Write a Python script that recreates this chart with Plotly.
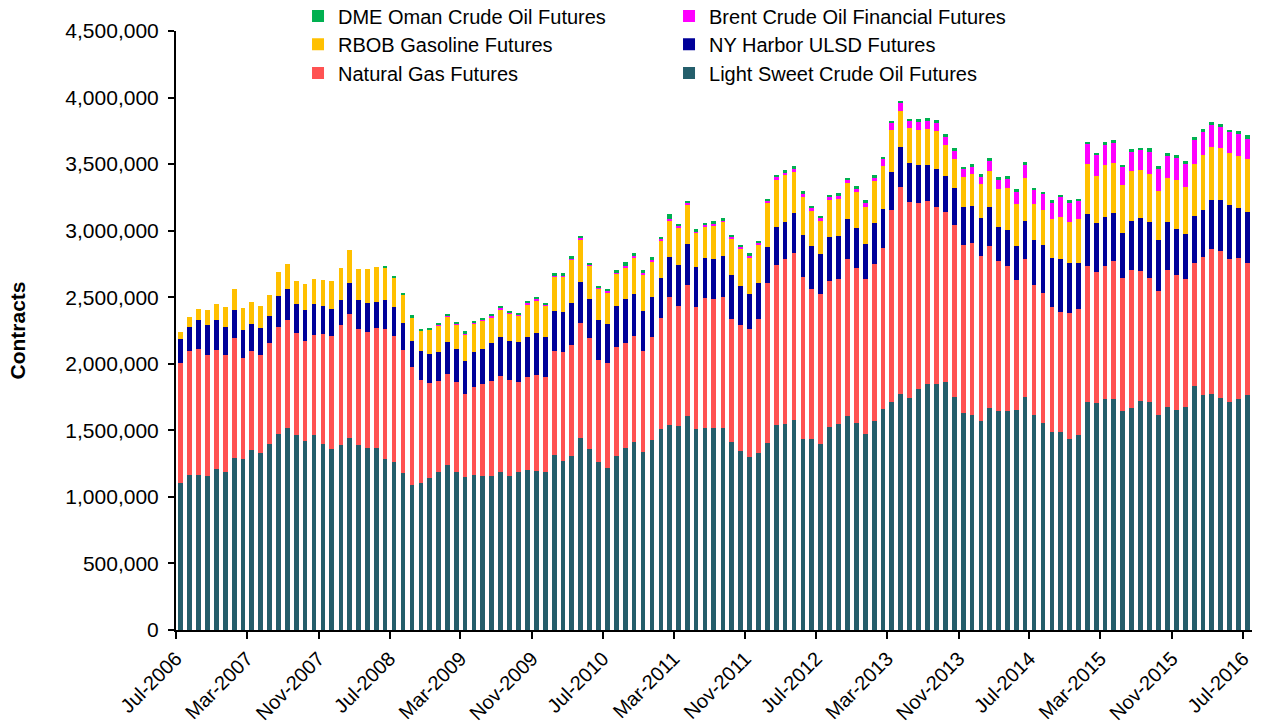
import pandas as pd
import plotly.graph_objects as go

# monthly open interest, thousands of contracts, Jul-2006 .. Jul-2016
months = pd.date_range("2006-07-01", periods=121, freq="MS")

light_sweet = [1102, 1164, 1164, 1157, 1212, 1189, 1295, 1287, 1355, 1327,
               1395, 1475, 1520, 1465, 1420, 1465, 1400, 1360, 1392, 1445,
               1392, 1365, 1367, 1285, 1265, 1182, 1092, 1107, 1142, 1189,
               1242, 1189, 1147, 1167, 1159, 1159, 1189, 1159, 1189, 1205,
               1197, 1190, 1318, 1273, 1310, 1445, 1360, 1263, 1220, 1308,
               1370, 1415, 1340, 1430, 1513, 1543, 1536, 1611, 1508, 1521,
               1521, 1520, 1415, 1345, 1303, 1328, 1403, 1543, 1551, 1581,
               1438, 1438, 1395, 1528, 1551, 1606, 1553, 1475, 1571, 1658,
               1716, 1771, 1741, 1813, 1851, 1846, 1863, 1753, 1633, 1616,
               1573, 1671, 1643, 1646, 1653, 1753, 1618, 1556, 1485, 1490,
               1433, 1468, 1713, 1708, 1738, 1738, 1648, 1671, 1723, 1716,
               1618, 1678, 1656, 1673, 1836, 1763, 1771, 1741, 1711, 1738,
               1763]

natural_gas = [906, 932, 947, 909, 891, 877, 901, 759, 741, 736,
               761, 804, 811, 766, 751, 751, 824, 851, 902, 929,
               869, 874, 899, 974, 944, 919, 881, 769, 716, 682,
               684, 674, 628, 661, 692, 712, 719, 717, 677, 693,
               716, 711, 778, 816, 832, 859, 837, 766, 789, 819,
               784, 797, 759, 772, 829, 959, 901, 979, 919, 974,
               966, 982, 924, 949, 959, 1011, 1202, 1202, 1234, 1254,
               1214, 1127, 1132, 1092, 1089, 1184, 1167, 1165, 1176, 1215,
               1440, 1560, 1477, 1398, 1370, 1335, 1278, 1290, 1262, 1292,
               1240, 1212, 1132, 1091, 979, 1034, 974, 979, 942, 902,
               951, 941, 1022, 984, 999, 1037, 994, 1034, 972, 929,
               929, 1027, 1009, 962, 921, 1037, 1092, 1104, 1076, 1054,
               994]

ny_harbor_ulsd = [178, 183, 215, 225, 226, 213, 208, 208, 203, 203,
                  203, 228, 231, 218, 233, 233, 210, 203, 185, 235,
                  218, 220, 201, 218, 217, 208, 201, 217, 218, 220,
                  240, 248, 248, 260, 260, 283, 296, 295, 300, 306,
                  316, 301, 303, 298, 315, 313, 293, 303, 288, 310,
                  333, 315, 300, 300, 303, 301, 308, 310, 300, 300,
                  301, 308, 331, 293, 265, 271, 273, 283, 283, 301,
                  318, 320, 301, 330, 323, 295, 298, 263, 313, 290,
                  283, 300, 293, 280, 275, 285, 270, 275, 286, 280,
                  280, 293, 253, 271, 256, 288, 341, 360, 370, 395,
                  371, 346, 388, 368, 363, 356, 338, 368, 403, 418,
                  383, 358, 348, 340, 353, 358, 370, 388, 406, 376,
                  384]

rbob = [50, 72, 88, 110, 117, 145, 155, 162, 163, 168,
        160, 180, 187, 170, 193, 190, 193, 205, 243, 243,
        233, 253, 257, 247, 221, 208, 177, 156, 178, 198,
        188, 185, 198, 213, 215, 197, 207, 208, 193, 242,
        250, 237, 253, 265, 323, 316, 247, 233, 240, 238,
        240, 273, 271, 268, 280, 275, 278, 293, 256, 233,
        245, 253, 268, 273, 270, 280, 328, 355, 348, 308,
        286, 266, 247, 281, 278, 271, 273, 278, 316, 326,
        318, 271, 258, 266, 268, 281, 230, 221, 225, 240,
        255, 273, 285, 310, 310, 323, 270, 258, 291, 318,
        313, 330, 376, 353, 391, 380, 361, 376, 358, 363,
        368, 330, 365, 353, 389, 408, 396, 388, 393, 391,
        395]

brent = [0, 0, 0, 0, 0, 0, 0, 0, 0, 0,
         0, 0, 0, 0, 0, 0, 0, 0, 0, 0,
         0, 0, 0, 0, 0, 0, 0, 4, 3, 3,
         4, 4, 4, 5, 5, 5, 6, 6, 6, 7,
         7, 8, 8, 8, 9, 9, 8, 10, 10, 8,
         10, 13, 10, 10, 10, 13, 12, 15, 10, 17,
         18, 15, 15, 18, 18, 15, 15, 18, 20, 20,
         22, 22, 23, 20, 20, 30, 25, 32, 27, 50,
         50, 55, 55, 60, 63, 65, 65, 62, 55, 53,
         58, 75, 70, 73, 95, 96, 105, 120, 123, 146,
         140, 138, 150, 156, 155, 148, 140, 145, 148, 168,
         168, 171, 168, 176, 182, 175, 163, 156, 155, 170,
         155]

dme_oman = [0, 0, 0, 0, 0, 0, 0, 0, 0, 0,
            0, 0, 0, 0, 0, 0, 0, 0, 0, 0,
            0, 0, 0, 13, 12, 15, 13, 10, 15, 15,
            17, 15, 20, 18, 13, 15, 20, 15, 17, 18,
            15, 10, 20, 20, 23, 20, 12, 12, 18, 22,
            26, 20, 22, 20, 18, 32, 15, 15, 20, 13,
            20, 15, 12, 15, 15, 18, 17, 20, 18, 20,
            20, 15, 15, 20, 20, 10, 20, 15, 15, 17,
            17, 20, 18, 20, 17, 20, 20, 20, 20, 20,
            17, 20, 18, 20, 18, 20, 15, 18, 17, 15,
            20, 15, 20, 15, 18, 20, 13, 17, 17, 25,
            20, 17, 20, 17, 25, 23, 25, 25, 16, 20,
            28]

tick_labels = ["Jul-2006", "Mar-2007", "Nov-2007", "Jul-2008", "Mar-2009",
               "Nov-2009", "Jul-2010", "Mar-2011", "Nov-2011", "Jul-2012",
               "Mar-2013", "Nov-2013", "Jul-2014", "Mar-2015", "Nov-2015",
               "Jul-2016"]

# bottom to top of the stack: (name, values, colour, legend, rank in legend row)
series = [
    ("Light Sweet Crude Oil Futures", light_sweet, "#245E6B", "legend3", 2),
    ("Natural Gas Futures", natural_gas, "#FF5252", "legend3", 1),
    ("NY Harbor ULSD Futures", ny_harbor_ulsd, "#000099", "legend2", 2),
    ("RBOB Gasoline Futures", rbob, "#FFC000", "legend2", 1),
    ("Brent Crude Oil Financial Futures", brent, "#FF00FF", "legend", 2),
    ("DME Oman Crude Oil Futures", dme_oman, "#00B050", "legend", 1),
]

fig = go.Figure()
for name, vals, color, leg, rank in series:
    fig.add_trace(go.Bar(
        x=months,
        y=[v * 1000 for v in vals],
        name=name,
        marker_color=color,
        marker_line_width=0,
        xperiod="M1",
        xperiodalignment="middle",
        legend=leg,
        legendrank=rank,
        hovertemplate="%{x|%b-%Y}<br>%{y:,}<extra>" + name + "</extra>",
    ))

font = dict(family="Liberation Sans, Arial, sans-serif", size=20, color="black")
leg_common = dict(orientation="h", x=0.1134, xanchor="left", yanchor="middle",
                  bgcolor="rgba(0,0,0,0)", entrywidth=326, entrywidthmode="pixels",
                  font=font, traceorder="normal", itemclick=False)

fig.update_layout(
    barmode="stack",
    bargap=0.45,
    width=1263,
    height=728,
    margin=dict(l=176, r=11, t=31, b=98, autoexpand=False),
    plot_bgcolor="white",
    paper_bgcolor="white",
    font=font,
    legend=dict(leg_common, y=1.025),
    legend2=dict(leg_common, y=0.978),
    legend3=dict(leg_common, y=0.930),
)

fig.update_xaxes(
    range=[months[0], months[-1] + pd.DateOffset(months=1)],
    tickvals=months[::8],
    ticktext=tick_labels,
    tickangle=-45,
    ticks="outside",
    ticklen=7,
    tickwidth=1.5,
    tickcolor="black",
    showline=True,
    linecolor="black",
    linewidth=2,
    showgrid=False,
    tickfont=dict(size=20),
)

fig.update_yaxes(
    range=[0, 4500000],
    dtick=500000,
    tickformat=",",
    ticks="outside",
    ticklen=6,
    tickwidth=1.5,
    tickcolor="black",
    showline=True,
    linecolor="black",
    linewidth=2,
    showgrid=False,
    zeroline=False,
    tickfont=dict(size=21),
    ticklabelstandoff=5,
    title=dict(text="<b>Contracts</b>", font=dict(size=21), standoff=34),
)

# drop the default 8px body margin so the figure fills the window exactly
fig.write_html("out.html", config={"displayModeBar": False},
               post_script="document.body.style.margin = '0';")
